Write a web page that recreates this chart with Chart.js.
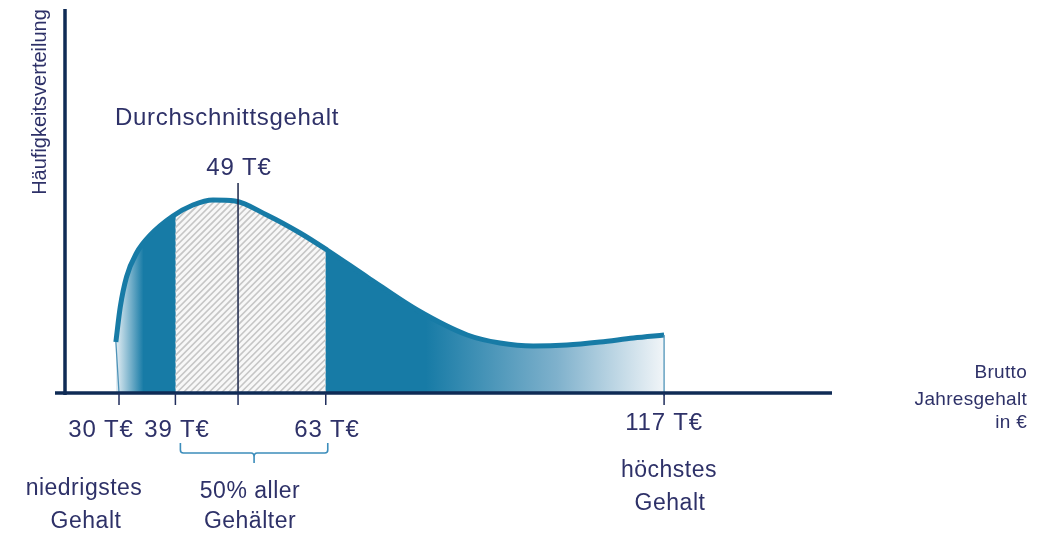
<!DOCTYPE html>
<html lang="de">
<head>
<meta charset="utf-8">
<title>Gehaltsverteilung</title>
<script src="https://cdn.jsdelivr.net/npm/chart.js@4.4.1/dist/chart.umd.min.js"></script>
<style>
  html, body { margin: 0; padding: 0; background: #fff; }
  #wrap { position: relative; width: 1045px; height: 537px; }
</style>
</head>
<body>
<div id="wrap"><canvas id="chart"></canvas></div>
<script>
// ---------- Data ----------
// salary in T€, frequency in arbitrary units (height above the axis)
const salary    = [29.5, 30.2, 31.2, 32.8, 35,  38.6, 41.8, 45,  48.5, 53.6, 58.9, 63.2, 69.6, 77.6, 85.6, 90.8, 96.1, 101.5, 106.8, 112.1, 117];
const frequency = [51,   86,   116,  140,  158, 177,  188,  193, 192,  178,  160,  143,  116,  83,   58,   50,   47,   48,    51,    55,    58];

const tickValues = [30, 39, 49, 63, 117];
const tickLabels = ['30 T€', '39 T€', '49 T€', '63 T€', '117 T€'];
const lowest = 30, q1 = 39, average = 49, q3 = 63, highest = 117;

const TEAL = '#177ba6';
const NAVY = '#0f2b55';
const TEXT = '#2e3168';
const FONT = '"Liberation Sans", Arial, sans-serif';

const $ = id => document.getElementById(id);

// ---------- Fill: gradient + hatched middle 50% ----------
let fillCache = null;
function areaFill(context){
  const chart = context.chart;
  const { chartArea, scales } = chart;
  if (!chartArea) return null;
  if (fillCache) return fillCache;
  const x = v => scales.x.getPixelForValue(v);
  const off = document.createElement('canvas');
  off.width = chart.width; off.height = chart.height;
  const g = off.getContext('2d');

  const x0 = x(salary[0]), x1 = x(33.9), x2 = x(79), x3 = x(highest);
  const grad = g.createLinearGradient(x0, 0, x3, 0);
  const span = x3 - x0;
  grad.addColorStop(0, '#e4eef4');
  grad.addColorStop((x1 - x0) / span, TEAL);
  grad.addColorStop((x2 - x0) / span, TEAL);
  grad.addColorStop(0.55 + 0.45 * ((x2 - x0) / span), '#7fb1cc');
  grad.addColorStop(1, '#f1f5f8');
  g.fillStyle = grad;
  g.fillRect(0, 0, off.width, off.height);

  // hatched region between quartiles
  const hx0 = x(q1), hx1 = x(q3);
  const top = chartArea.top, bottom = chartArea.bottom;
  g.save();
  g.beginPath(); g.rect(hx0, top, hx1 - hx0, bottom - top); g.clip();
  g.fillStyle = '#f8f8f8';
  g.fillRect(hx0, top, hx1 - hx0, bottom - top);
  g.strokeStyle = '#c6c6c6';
  g.lineWidth = 1.6;
  const h = bottom - top;
  for (let sx = hx0 - h; sx < hx1 + 10; sx += 6.4){
    g.beginPath();
    g.moveTo(sx, bottom);
    g.lineTo(sx + h, top);
    g.stroke();
  }
  g.restore();

  fillCache = chart.ctx.createPattern(off, 'no-repeat');
  return fillCache;
}

// ---------- Decorations: axes, ticks, labels ----------
function text(ctx, str, x, y, size, align, spacing){
  ctx.font = `${size}px ${FONT}`;
  ctx.textAlign = align || 'center';
  ctx.textBaseline = 'alphabetic';
  ctx.letterSpacing = (spacing || 0) + 'px';
  ctx.fillText(str, x, y);
  ctx.letterSpacing = '0px';
}

const decorations = {
  id: 'decorations',
  afterDatasetsDraw(chart){
    const ctx = chart.ctx;
    const { chartArea, scales } = chart;
    const x = v => scales.x.getPixelForValue(v);
    const y = v => scales.y.getPixelForValue(v);
    const base = chartArea.bottom;
    ctx.save();

    // thin edges of the distribution
    ctx.strokeStyle = '#4f93b8';
    ctx.lineWidth = 1.3;
    ctx.beginPath();
    ctx.moveTo(x(salary[0]), y(frequency[0]));
    ctx.lineTo(x(lowest), base);
    ctx.moveTo(x(highest), y(frequency[frequency.length - 1]));
    ctx.lineTo(x(highest), base + 3);
    ctx.stroke();

    // average line
    ctx.strokeStyle = '#1b2549';
    ctx.lineWidth = 1.5;
    ctx.beginPath();
    ctx.moveTo(x(average), 183);
    ctx.lineTo(x(average), base);
    ctx.stroke();

    // axes
    ctx.strokeStyle = NAVY;
    ctx.lineWidth = 3.5;
    ctx.beginPath();
    ctx.moveTo(chartArea.left, chartArea.top - 1);
    ctx.lineTo(chartArea.left, base + 2);
    ctx.moveTo(chartArea.left - 10, base);
    ctx.lineTo(chartArea.right, base);
    ctx.stroke();

    // ticks
    ctx.strokeStyle = '#1f2d5c';
    ctx.lineWidth = 1.5;
    tickValues.forEach(v => {
      ctx.beginPath();
      ctx.moveTo(x(v), base);
      ctx.lineTo(x(v), base + 12);
      ctx.stroke();
    });

    // bracket under the middle 50%
    const bx0 = x(q1) + 5, bx1 = x(q3) + 2, bm = (bx0 + bx1) / 2;
    ctx.strokeStyle = '#3c8dbb';
    ctx.lineWidth = 1.6;
    ctx.beginPath();
    ctx.moveTo(bx0, 443);
    ctx.lineTo(bx0, 450);
    ctx.quadraticCurveTo(bx0, 453, bx0 + 3, 453);
    ctx.lineTo(bm - 3, 453);
    ctx.quadraticCurveTo(bm, 453, bm, 457);
    ctx.lineTo(bm, 463);
    ctx.moveTo(bm, 457);
    ctx.quadraticCurveTo(bm, 453, bm + 3, 453);
    ctx.lineTo(bx1 - 3, 453);
    ctx.quadraticCurveTo(bx1, 453, bx1, 450);
    ctx.lineTo(bx1, 443);
    ctx.stroke();

    // texts
    ctx.fillStyle = TEXT;
    text(ctx, 'Durchschnittsgehalt', 227, 125, 24, 'center', 0.7);
    text(ctx, tickLabels[2], 239, 175, 24, 'center', 0.8);
    text(ctx, tickLabels[0], 101, 437, 24, 'center', 0.8);
    text(ctx, tickLabels[1], 177, 437, 24, 'center', 0.8);
    text(ctx, tickLabels[3], 327, 437, 24, 'center', 0.8);
    text(ctx, tickLabels[4], 664, 430, 24, 'center', 0.8);

    text(ctx, 'niedrigstes', 84, 495, 23, 'center', 0.5);
    text(ctx, 'Gehalt', 86, 528, 23, 'center', 0.5);
    text(ctx, '50% aller', 250, 498, 23, 'center', 0.5);
    text(ctx, 'Gehälter', 250, 528, 23, 'center', 0.5);
    text(ctx, 'höchstes', 669, 477, 23, 'center', 0.5);
    text(ctx, 'Gehalt', 670, 510, 23, 'center', 0.5);

    text(ctx, 'Brutto', 1027, 378, 19, 'right', 0.3);
    text(ctx, 'Jahresgehalt', 1027, 405, 19, 'right', 0.3);
    text(ctx, 'in €', 1027, 428, 19, 'right', 0.3);

    ctx.save();
    ctx.translate(46, 102);
    ctx.rotate(-Math.PI / 2);
    text(ctx, 'Häufigkeitsverteilung', 0, 0, 20, 'center', 0);
    ctx.restore();

    ctx.restore();
  }
};

// ---------- Chart ----------
const points = salary.map((s, i) => ({ x: s, y: frequency[i] }));

new Chart($('chart').getContext('2d'), {
  type: 'line',
  data: {
    datasets: [{
      data: points,
      borderColor: TEAL,
      borderWidth: 5,
      borderCapStyle: 'butt',
      pointRadius: 0,
      cubicInterpolationMode: 'monotone',
      fill: 'origin',
      backgroundColor: areaFill
    }]
  },
  options: {
    responsive: true,
    maintainAspectRatio: false,
    animation: false,
    layout: { padding: { left: 65, right: 213, top: 10, bottom: 144 } },
    plugins: { legend: { display: false }, tooltip: { enabled: false } },
    scales: {
      x: { type: 'linear', display: false, min: 21.38, max: 143.8 },
      y: { display: false, min: 0, max: 383 }
    }
  },
  plugins: [decorations]
});
</script>
</body>
</html>
